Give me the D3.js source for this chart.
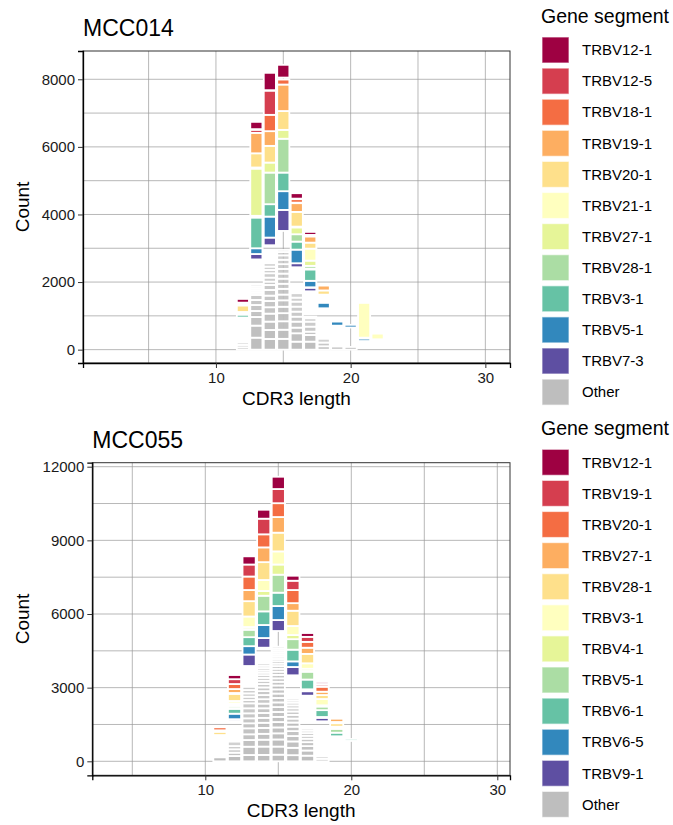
<!DOCTYPE html>
<html>
<head>
<meta charset="utf-8">
<script src="https://cdn.jsdelivr.net/npm/d3@7"></script>
<style>
  html, body { margin: 0; padding: 0; background: #fff; }
  svg { display: block; font-family: 'Liberation Sans', Arial, sans-serif; }
</style>
</head>
<body>
<svg id="chart" width="673" height="825"></svg>
<script>
// ---- data ----
const mcc014Genes = ['TRBV12-1', 'TRBV12-5', 'TRBV18-1', 'TRBV19-1', 'TRBV20-1', 'TRBV21-1',
  'TRBV27-1', 'TRBV28-1', 'TRBV3-1', 'TRBV5-1', 'TRBV7-3', 'Other'];
const mcc055Genes = ['TRBV12-1', 'TRBV19-1', 'TRBV20-1', 'TRBV27-1', 'TRBV28-1', 'TRBV3-1',
  'TRBV4-1', 'TRBV5-1', 'TRBV6-1', 'TRBV6-5', 'TRBV9-1', 'Other'];

// "Other" clonotypes per CDR3 length, bottom of each stack
const mcc014Other = [
  [12, [70, 70, 70]],
  [13, [355, 356, 256, 178, 177, 149, 148, 60, 60, 60, 60, 60]],
  [14, [317, 266, 247, 236, 189, 186, 158, 168, 148, 98, 118, 130, 98, 98, 99]],
  [15, [320, 270, 250, 240, 190, 190, 170, 170, 150, 150, 150, 140, 140, 130, 130, 100, 60]],
  [16, [237, 248, 166, 178, 148, 148, 148, 148, 118, 130]],
  [17, [237, 198, 98, 148, 148, 100, 48]],
  [18, [100, 110, 110]],
  [19, [90]],
  [20, [80]],
];
// named clonotypes stacked above; null = blank (unshaded) clonotypes
const mcc014Segments = [
  [12, null, 740], [12, 'TRBV3-1', 80], [12, null, 85], [12, 'TRBV20-1', 188], [12, null, 88], [12, 'TRBV12-1', 110],
  [13, null, 751], [13, 'TRBV7-3', 160], [13, 'TRBV5-1', 170], [13, 'TRBV3-1', 910], [13, 'TRBV28-1', 50],
  [13, 'TRBV27-1', 1390], [13, null, 40], [13, 'TRBV20-1', 420], [13, 'TRBV19-1', 605], [13, 'TRBV12-5', 85],
  [13, null, 25], [13, 'TRBV12-1', 215],
  [14, null, 534], [14, 'TRBV7-3', 226], [14, 'TRBV5-1', 621], [14, 'TRBV3-1', 367], [14, 'TRBV28-1', 936],
  [14, 'TRBV27-1', 296], [14, 'TRBV20-1', 494], [14, 'TRBV19-1', 435], [14, 'TRBV18-1', 483], [14, 'TRBV12-5', 710],
  [14, null, 20], [14, 'TRBV12-1', 513],
  [15, null, 563], [15, 'TRBV7-3', 622], [15, 'TRBV5-1', 554], [15, 'TRBV3-1', 551], [15, 'TRBV28-1', 1001],
  [15, 'TRBV27-1', 263], [15, 'TRBV20-1', 557], [15, 'TRBV19-1', 784], [15, 'TRBV18-1', 147], [15, null, 59],
  [15, 'TRBV12-1', 377],
  [16, null, 769], [16, 'TRBV7-3', 119], [16, 'TRBV5-1', 403], [16, 'TRBV3-1', 237], [16, 'TRBV28-1', 218],
  [16, 'TRBV27-1', 197], [16, null, 29], [16, 'TRBV20-1', 435], [16, 'TRBV19-1', 257], [16, null, 17],
  [16, 'TRBV18-1', 102], [16, null, 17], [16, 'TRBV12-1', 160],
  [17, null, 750], [17, 'TRBV7-3', 99], [17, null, 20], [17, 'TRBV5-1', 191], [17, 'TRBV3-1', 331], [17, null, 29],
  [17, 'TRBV28-1', 83], [17, 'TRBV27-1', 154], [17, 'TRBV21-1', 355], [17, 'TRBV20-1', 178], [17, 'TRBV19-1', 178],
  [17, null, 50], [17, 'TRBV12-1', 89],
  [18, null, 904], [18, 'TRBV5-1', 159], [18, null, 112], [18, 'TRBV21-1', 50], [18, null, 83],
  [18, 'TRBV20-1', 124], [18, 'TRBV19-1', 143],
  [19, null, 620], [19, 'TRBV5-1', 120],
  [20, null, 575], [20, 'TRBV5-1', 80],
  [21, null, 255], [21, 'TRBV5-1', 70], [21, null, 30], [21, 'TRBV21-1', 1028],
  [22, null, 306], [22, 'TRBV21-1', 168],
];

const mcc055Other = [
  [11, [160]],
  [12, [216, 136, 137, 134, 177]],
  [13, [257, 338, 273, 232, 244, 204, 203, 204, 204, 203, 135, 134, 136, 137, 135, 69]],
  [14, [260, 340, 280, 240, 240, 210, 200, 200, 190, 190, 180, 170, 160, 150, 140, 130, 120, 110, 100, 90, 100, 95, 96]],
  [15, [270, 330, 290, 250, 240, 220, 210, 200, 200, 190, 180, 180, 170, 160, 150, 140, 140, 130, 120, 110,
        100, 100, 90, 90, 80, 82, 82, 82, 82]],
  [16, [250, 300, 260, 220, 200, 180, 170, 160, 150, 140, 130, 120, 110, 90, 86]],
  [17, [230, 210, 180, 160, 140, 120, 110, 100, 90, 69]],
  [18, [100, 100]],
];
const mcc055Segments = [
  [11, null, 910], [11, 'TRBV28-1', 125], [11, null, 68], [11, 'TRBV20-1', 122],
  [12, null, 840], [12, 'TRBV9-1', 75], [12, 'TRBV6-5', 225], [12, 'TRBV6-1', 190], [12, null, 40], [12, 'TRBV5-1', 80],
  [12, null, 110], [12, 'TRBV3-1', 97], [12, 'TRBV28-1', 283], [12, null, 43], [12, 'TRBV27-1', 161],
  [12, 'TRBV20-1', 204], [12, 'TRBV19-1', 197], [12, 'TRBV12-1', 169],
  [13, null, 774], [13, 'TRBV9-1', 468], [13, 'TRBV6-5', 340], [13, 'TRBV6-1', 367], [13, 'TRBV5-1', 303],
  [13, 'TRBV4-1', 80], [13, null, 31], [13, 'TRBV3-1', 427], [13, 'TRBV28-1', 625], [13, 'TRBV27-1', 454],
  [13, 'TRBV20-1', 550], [13, 'TRBV19-1', 489], [13, 'TRBV12-1', 333],
  [14, null, 637], [14, 'TRBV9-1', 394], [14, 'TRBV6-5', 530], [14, 'TRBV6-1', 556], [14, 'TRBV5-1', 637],
  [14, 'TRBV4-1', 192], [14, 'TRBV3-1', 448], [14, 'TRBV28-1', 727], [14, 'TRBV27-1', 602], [14, 'TRBV20-1', 532],
  [14, 'TRBV19-1', 637], [14, 'TRBV12-1', 364],
  [15, null, 640], [15, 'TRBV9-1', 447], [15, 'TRBV6-5', 570], [15, 'TRBV6-1', 544], [15, 'TRBV5-1', 733],
  [15, 'TRBV4-1', 414], [15, 'TRBV3-1', 535], [15, 'TRBV28-1', 762], [15, 'TRBV27-1', 637], [15, 'TRBV20-1', 564],
  [15, 'TRBV19-1', 577], [15, 'TRBV12-1', 500],
  [16, null, 937], [16, 'TRBV9-1', 338], [16, 'TRBV6-5', 230], [16, 'TRBV6-1', 477], [16, 'TRBV5-1', 427],
  [16, 'TRBV4-1', 169], [16, 'TRBV3-1', 367], [16, 'TRBV28-1', 623], [16, 'TRBV27-1', 308], [16, 'TRBV20-1', 535],
  [16, 'TRBV19-1', 379], [16, 'TRBV12-1', 203],
  [17, null, 1264], [17, 'TRBV9-1', 177], [17, null, 83], [17, 'TRBV6-1', 397], [17, 'TRBV5-1', 310], [17, null, 40],
  [17, 'TRBV4-1', 90], [17, 'TRBV3-1', 222], [17, 'TRBV28-1', 384], [17, 'TRBV27-1', 251], [17, 'TRBV20-1', 238],
  [17, 'TRBV19-1', 204], [17, 'TRBV12-1', 156],
  [18, null, 1430], [18, 'TRBV9-1', 133], [18, null, 42], [18, 'TRBV6-1', 279], [18, 'TRBV5-1', 139], [18, null, 58],
  [18, 'TRBV3-1', 256], [18, 'TRBV28-1', 163], [18, 'TRBV27-1', 136], [18, 'TRBV20-1', 202], [18, 'TRBV19-1', 82],
  [18, null, 30], [18, 'TRBV12-1', 80],
  [19, null, 1019], [19, 'TRBV6-1', 147], [19, 'TRBV5-1', 149], [19, null, 95], [19, 'TRBV28-1', 137],
  [19, null, 54], [19, 'TRBV27-1', 133],
  [20, null, 830], [20, 'TRBV6-1', 80],
];

const mcc014YTicks = [0, 2000, 4000, 6000, 8000];
const mcc014YMinor = [1000, 3000, 5000, 7000];
const mcc055YTicks = [0, 3000, 6000, 9000, 12000];
const mcc055YMinor = [1500, 4500, 7500, 10500];
const xTicks = [10, 20, 30];
const xMinor = [5, 15, 25];

const spectral = ['#9E0142', '#D53E4F', '#F46D43', '#FDAE61', '#FEE08B', '#FFFFBF',
  '#E6F598', '#ABDDA4', '#66C2A5', '#3288BD', '#5E4FA2', '#BEBEBE'];

// ---- drawing ----
const svg = d3.select('#chart');

function stackRows(other, segs) {
  const rows = [];
  const lens = [...new Set([...other.map(d => d[0]), ...segs.map(d => d[0])])].sort((a, b) => a - b);
  lens.forEach(len => {
    let y0 = 0;
    const o = other.find(d => d[0] === len);
    if (o) o[1].forEach((v, i) => {
      rows.push({ len, gene: 'Other', y0, y1: y0 + v, rank: i, n: o[1].length });
      y0 += v;
    });
    segs.filter(d => d[0] === len).forEach(d => {
      if (d[1]) rows.push({ len, gene: d[1], y0, y1: y0 + d[2] });
      y0 += d[2];
    });
  });
  return rows;
}

function panel(cfg) {
  const { title, genes, other, segs, yTicks, yMinor, box, xDom, yDom, titleY, legendTop } = cfg;
  const x = d3.scaleLinear().domain(xDom).range([box.l, box.r]);
  const y = d3.scaleLinear().domain(yDom).range([box.b, box.t]);
  const color = d3.scaleOrdinal().domain(genes).range(spectral);
  const g = svg.append('g');

  // grid
  const grid = g.append('g').attr('stroke', '#9a9a9a').attr('stroke-width', 0.7);
  [...yTicks, ...yMinor].forEach(v => grid.append('line')
    .attr('x1', box.l).attr('x2', box.r).attr('y1', y(v)).attr('y2', y(v)));
  [...xTicks, ...xMinor].forEach(v => grid.append('line')
    .attr('y1', box.t).attr('y2', box.b).attr('x1', x(v)).attr('x2', x(v)));

  // bars
  const bw = x(0.9) - x(0);
  const rows = stackRows(other, segs);
  g.append('g').selectAll('rect').data(rows).enter().append('rect')
    .attr('x', d => x(d.len) - bw / 2).attr('width', bw)
    .attr('y', d => y(d.y1)).attr('height', d => y(d.y0) - y(d.y1))
    .attr('fill', d => color(d.gene))
    .attr('fill-opacity', d => d.gene === 'Other' ? 1 - 0.3 * (d.n > 1 ? d.rank / (d.n - 1) : 0) : 1)
    .attr('stroke', '#fff').attr('stroke-width', 1.8);

  // frame
  g.append('rect').attr('x', box.l).attr('y', box.t)
    .attr('width', box.r - box.l).attr('height', box.b - box.t)
    .attr('fill', 'none').attr('stroke', '#333').attr('stroke-width', 1);

  // axes
  const ya = g.append('g').attr('transform', `translate(${box.l},0)`)
    .call(d3.axisLeft(y).tickValues(yTicks).tickFormat(d3.format('d')).tickSize(5).tickPadding(3));
  const xa = g.append('g').attr('transform', `translate(0,${box.b})`)
    .call(d3.axisBottom(x).tickValues(xTicks).tickFormat(d3.format('d')).tickSize(5).tickPadding(4));
  [ya, xa].forEach(a => {
    a.select('.domain').attr('stroke', '#000').attr('stroke-width', 1.3);
    a.selectAll('.tick line').attr('stroke', '#333');
    a.selectAll('text').attr('fill', '#1a1a1a').style('font-size', '15px')
      .style('font-family', "'Liberation Sans', Arial, sans-serif");
  });

  // titles
  g.append('text').attr('x', box.l).attr('y', titleY).style('font-size', '23px').attr('fill', '#000').text(title);
  g.append('text').attr('x', (box.l + box.r) / 2).attr('y', box.b + 42).attr('text-anchor', 'middle')
    .style('font-size', '19px').attr('fill', '#000').text('CDR3 length');
  g.append('text').attr('transform', `translate(29,${(box.t + box.b) / 2}) rotate(-90)`)
    .attr('text-anchor', 'middle').style('font-size', '19px').attr('fill', '#000').text('Count');

  // legend
  const lg = g.append('g').attr('transform', `translate(542,${legendTop})`);
  lg.append('text').attr('x', -1).attr('y', -14).style('font-size', '19.5px').attr('fill', '#000').text('Gene segment');
  const item = lg.selectAll('.li').data(genes).enter().append('g')
    .attr('transform', (d, i) => `translate(0,${i * 31.1})`);
  item.append('rect').attr('width', 27).attr('height', 26)
    .attr('fill', d => color(d)).attr('stroke', '#fff').attr('stroke-opacity', 0.6).attr('stroke-width', 1.2);
  item.append('text').attr('x', 40).attr('y', 13).attr('dy', '0.35em')
    .style('font-size', '15px').attr('fill', '#000').text(d => d);
}

panel({
  title: 'MCC014', genes: mcc014Genes, other: mcc014Other, segs: mcc014Segments,
  yTicks: mcc014YTicks, yMinor: mcc014YMinor,
  box: { l: 83, r: 510, t: 51, b: 363 }, xDom: [0.13, 31.83], yDom: [-395, 8837],
  titleY: 36, legendTop: 37,
});
panel({
  title: 'MCC055', genes: mcc055Genes, other: mcc055Other, segs: mcc055Segments,
  yTicks: mcc055YTicks, yMinor: mcc055YMinor,
  box: { l: 92.3, r: 510, t: 462.7, b: 775.3 }, xDom: [2.26, 30.87], yDom: [-570, 12163],
  titleY: 447.7, legendTop: 449.3,
});
</script>
</body>
</html>
